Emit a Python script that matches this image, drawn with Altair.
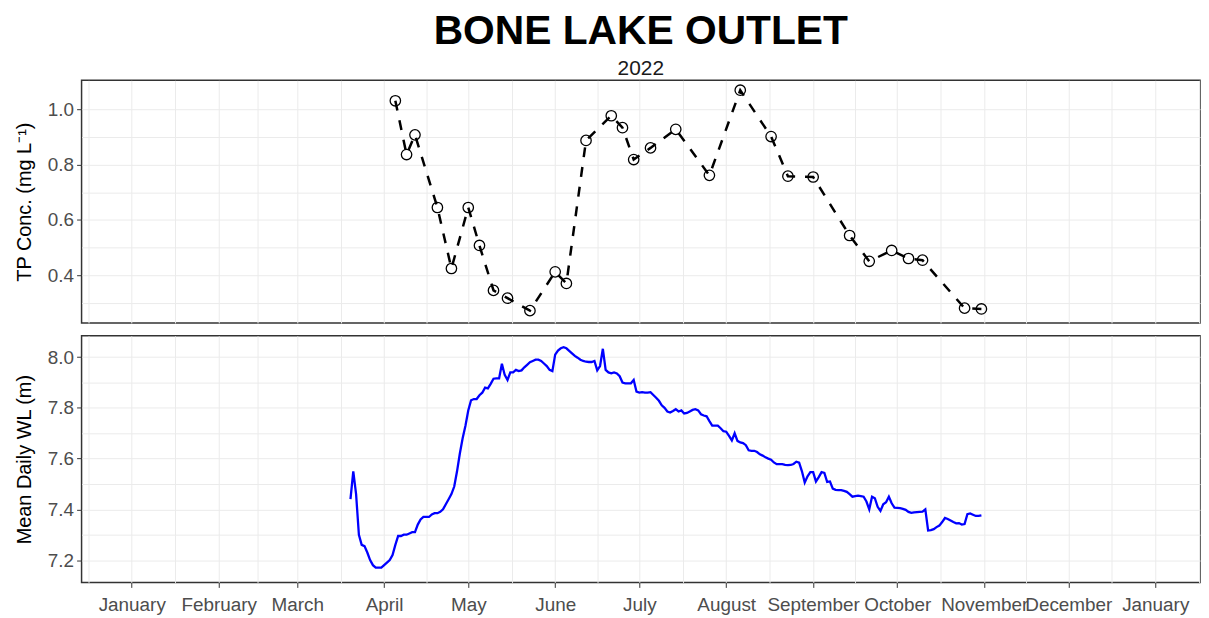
import altair as alt
import pandas as pd

# ---------------- data ----------------
tp_dates = ["2022-04-05", "2022-04-09", "2022-04-12", "2022-04-20", "2022-04-25",
            "2022-05-01", "2022-05-05", "2022-05-10", "2022-05-15", "2022-05-23",
            "2022-06-01", "2022-06-05", "2022-06-12", "2022-06-21", "2022-06-25",
            "2022-06-29", "2022-07-05", "2022-07-14", "2022-07-26", "2022-08-06",
            "2022-08-17", "2022-08-23", "2022-09-01", "2022-09-14", "2022-09-21",
            "2022-09-29", "2022-10-05", "2022-10-10", "2022-10-25", "2022-10-31"]
tp_values = [1.030, 0.836, 0.907, 0.645, 0.425,
             0.645, 0.508, 0.346, 0.318, 0.273,
             0.413, 0.371, 0.887, 0.976, 0.933,
             0.818, 0.860, 0.927, 0.761, 1.068,
             0.901, 0.758, 0.755, 0.544, 0.451,
             0.490, 0.461, 0.455, 0.282, 0.279]

wl_start = "2022-03-20"
wl_values = [
    7.44, 7.55, 7.46, 7.30, 7.26, 7.255, 7.23, 7.20, 7.18, 7.17,      # Mar 20 -
    7.17, 7.17, 7.18, 7.19, 7.20, 7.22, 7.26, 7.295, 7.295, 7.30,     # Mar 30 -
    7.30, 7.305, 7.31, 7.31, 7.34, 7.36, 7.37, 7.37, 7.37, 7.38,      # Apr 9 -
    7.385, 7.385, 7.39, 7.40, 7.42, 7.44, 7.46, 7.49, 7.55, 7.62,     # Apr 19 -
    7.68, 7.73, 7.79, 7.83, 7.835, 7.835, 7.85, 7.86, 7.88, 7.877,    # Apr 29 -
    7.895, 7.915, 7.916, 7.916, 7.974, 7.93, 7.91, 7.94, 7.94, 7.95,  # May 9 -
    7.945, 7.948, 7.96, 7.97, 7.98, 7.985, 7.99, 7.99, 7.985, 7.975,  # May 19 -
    7.965, 7.95, 7.945, 8.01, 8.026, 8.035, 8.039, 8.035, 8.025, 8.015,  # May 29 -
    8.005, 7.998, 7.99, 7.985, 7.982, 7.981, 7.981, 7.985, 7.948, 7.965,  # Jun 8 -
    8.033, 7.95, 7.94, 7.936, 7.94, 7.936, 7.925, 7.90, 7.897, 7.897,  # Jun 18 -
    7.897, 7.91, 7.864, 7.86, 7.862, 7.86, 7.86, 7.862, 7.851, 7.84,  # Jun 28 -
    7.828, 7.81, 7.80, 7.786, 7.782, 7.788, 7.795, 7.786, 7.79, 7.778,  # Jul 8 -
    7.78, 7.786, 7.792, 7.795, 7.79, 7.775, 7.77, 7.767, 7.748, 7.73,  # Jul 18 -
    7.73, 7.73, 7.72, 7.708, 7.706, 7.69, 7.672, 7.70, 7.67, 7.664,   # Jul 28 -
    7.661, 7.653, 7.633, 7.631, 7.631, 7.626, 7.617, 7.612, 7.605, 7.60,  # Aug 7 -
    7.596, 7.585, 7.578, 7.578, 7.578, 7.575, 7.574, 7.575, 7.579, 7.588,  # Aug 17 -
    7.584, 7.55, 7.506, 7.53, 7.547, 7.547, 7.51, 7.527, 7.547, 7.544,  # Aug 27 -
    7.508, 7.51, 7.482, 7.477, 7.476, 7.476, 7.473, 7.469, 7.46, 7.45,  # Sep 6 -
    7.452, 7.454, 7.452, 7.45, 7.431, 7.40, 7.45, 7.444, 7.41, 7.394,  # Sep 16 -
    7.42, 7.428, 7.45, 7.424, 7.407, 7.406, 7.405, 7.402, 7.398, 7.39,  # Sep 26 -
    7.386, 7.388, 7.389, 7.39, 7.391, 7.40, 7.317, 7.318, 7.322, 7.33,  # Oct 6 -
    7.336, 7.35, 7.366, 7.362, 7.356, 7.35, 7.345, 7.346, 7.34, 7.342,  # Oct 16 -
    7.381, 7.384, 7.379, 7.374, 7.374, 7.376,                          # Oct 26 -
]
wl_dates = [d.strftime("%Y-%m-%d") for d in pd.date_range(wl_start, periods=len(wl_values), freq="D")]

tp_df = pd.DataFrame({"date": tp_dates, "tp": tp_values})
wl_df = pd.DataFrame({"date": wl_dates, "wl": wl_values})

# ---------------- scales / grid ----------------
def ms(ts):
    return int(pd.Timestamp(ts, tz="UTC").value // 10**6)

x_domain = [ms("2021-12-14T02:24"), ms("2023-01-16T23:00")]
starts = pd.date_range("2021-12-01", "2023-02-01", freq="MS", tz="UTC")
mids = [starts[i] + (starts[i + 1] - starts[i]) / 2 for i in range(len(starts) - 1)]
grid_x = sorted([int(t.value // 10**6) for t in list(starts) + mids])
grid_x = [v for v in grid_x if x_domain[0] <= v <= x_domain[1]]

FONT = "Liberation Sans"
W = 1125

x_scale = alt.Scale(type="utc", domain=x_domain)
x_top = alt.X("date:T", scale=x_scale,
              axis=alt.Axis(values=grid_x, labels=False, ticks=False, domain=False,
                            title=None, grid=True))
x_bot = alt.X("date:T", scale=x_scale,
              axis=alt.Axis(values=grid_x, title=None, grid=True, domain=False,
                            labelExpr="utcdate(datum.value) == 1 ? utcFormat(datum.value, '%B') : ''",
                            tickOpacity={"condition": {"test": "utcdate(datum.value) == 1", "value": 1}, "value": 0},
                            labelOverlap=False, labelFlush=False, labelBound=False,
                            labelPadding=8))

major_test = "round(datum.value*10) % 2 == 0"
y_tp = alt.Y("tp:Q", scale=alt.Scale(domain=[0.2286, 1.1036], nice=False, zero=False),
             axis=alt.Axis(values=[0.3, 0.4, 0.5, 0.6, 0.7, 0.8, 0.9, 1.0],
                           labelExpr=f"{major_test} ? format(datum.value, '.1f') : ''",
                           tickOpacity={"condition": {"test": major_test, "value": 1}, "value": 0},
                           title="TP Conc. (mg L⁻¹)", titlePadding=13, labelPadding=3,
                           domain=False, grid=True))
y_wl = alt.Y("wl:Q", scale=alt.Scale(domain=[7.112, 8.084], nice=False, zero=False),
             axis=alt.Axis(values=[7.2, 7.3, 7.4, 7.5, 7.6, 7.7, 7.8, 7.9, 8.0],
                           labelExpr=f"{major_test} ? format(datum.value, '.1f') : ''",
                           tickOpacity={"condition": {"test": major_test, "value": 1}, "value": 0},
                           title="Mean Daily WL (m)", titlePadding=13, labelPadding=3,
                           domain=False, grid=True))

tp_line = alt.Chart(tp_df).mark_line(color="black", strokeWidth=2.5, strokeDash=[10, 10],
                                     strokeCap="butt").encode(x=x_top, y=y_tp)
tp_pts = alt.Chart(tp_df).mark_point(shape="circle", filled=False, size=110, strokeWidth=1.3,
                                     color="black", opacity=1).encode(x=x_top, y=y_tp)
top = alt.layer(tp_line, tp_pts).properties(
    width=W, height=244,
    title=alt.TitleParams(text="BONE LAKE OUTLET", subtitle="2022", anchor="middle",
                          frame="group",
                          font=FONT, fontSize=41, fontWeight="bold", color="black",
                          subtitleFont=FONT, subtitleFontSize=21, subtitleColor="#1A1A1A",
                          subtitlePadding=6, offset=0),
)

wl_line = alt.Chart(wl_df).mark_line(color="#0000FF", strokeWidth=2.3).encode(x=x_bot, y=y_wl)
bottom = alt.layer(wl_line).properties(width=W, height=248)

chart = alt.vconcat(top, bottom, spacing=11).properties(
    padding={"left": 5, "top": 0, "right": 0, "bottom": 0},
    background="white",
).configure_view(stroke="#333333", strokeWidth=1.5).configure_axis(
    labelFont=FONT, labelFontSize=19, labelColor="#4D4D4D",
    titleFont=FONT, titleFontSize=20, titleFontWeight="normal", titleColor="black",
    tickColor="#333333", tickSize=5, tickWidth=1,
    gridColor="#EBEBEB", gridWidth=1,
)

chart.save("out.html", embed_options={"renderer": "svg", "actions": False})
